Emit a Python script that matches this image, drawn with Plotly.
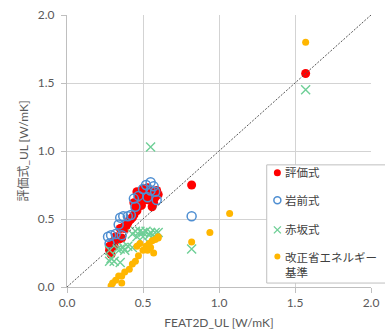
import plotly.graph_objects as go

# Axis setup
AXIS_RANGE = [0.0, 2.0]
TICK_VALUES = [0.0, 0.5, 1.0, 1.5, 2.0]
TICK_LABELS = ["0.0", "0.5", "1.0", "1.5", "2.0"]
X_TITLE = "FEAT2D_UL [W/mK]"
Y_TITLE = "評価式_UL [W/mK]"

SERIES_NAMES = ["評価式", "岩前式", "赤坂式", "改正省エネルギー基準"]
LEGEND_LABELS = ["評価式", "岩前式", "赤坂式", "改正省エネルギー<br>基準"]

# 評価式
hyoka_x = [0.46, 0.47, 0.44, 0.50, 0.52, 0.53, 0.55, 0.56, 0.54, 0.57, 0.58, 0.59,
           0.51, 0.49, 0.56, 0.60, 0.45, 0.48, 0.46, 0.44, 0.43, 0.41, 0.40, 0.39,
           0.37, 0.35, 0.42, 0.38, 0.32, 0.34, 0.36, 0.30, 0.28, 0.28, 0.29, 0.31,
           0.82, 1.57]
hyoka_y = [0.70, 0.66, 0.62, 0.72, 0.69, 0.73, 0.70, 0.67, 0.64, 0.62, 0.66, 0.71,
           0.64, 0.60, 0.59, 0.68, 0.58, 0.68, 0.56, 0.53, 0.51, 0.49, 0.47, 0.45,
           0.44, 0.43, 0.50, 0.43, 0.37, 0.35, 0.36, 0.33, 0.30, 0.27, 0.24, 0.30,
           0.75, 1.57]

# 岩前式
iwamae_x = [0.55, 0.52, 0.57, 0.50, 0.58, 0.55, 0.47, 0.44, 0.59, 0.53, 0.45, 0.42,
            0.40, 0.37, 0.35, 0.34, 0.32, 0.29, 0.27, 0.28, 0.36, 0.82]
iwamae_y = [0.77, 0.75, 0.74, 0.72, 0.70, 0.71, 0.67, 0.65, 0.64, 0.66, 0.59, 0.53,
            0.52, 0.52, 0.51, 0.46, 0.39, 0.38, 0.37, 0.32, 0.38, 0.52]

# 赤坂式
akasaka_x = [0.45, 0.48, 0.50, 0.52, 0.55, 0.58, 0.54, 0.50, 0.46, 0.43, 0.57, 0.60,
             0.40, 0.37, 0.35, 0.33, 0.38, 0.43, 0.28, 0.31, 0.35, 0.29, 0.28,
             0.55, 0.82, 1.57]
akasaka_y = [0.41, 0.41, 0.40, 0.41, 0.40, 0.40, 0.38, 0.37, 0.37, 0.39, 0.37, 0.40,
             0.30, 0.29, 0.28, 0.28, 0.27, 0.29, 0.19, 0.19, 0.18, 0.21, 0.27,
             1.03, 0.28, 1.45]

# 改正省エネルギー基準
kaisei_x = [0.60, 0.58, 0.56, 0.54, 0.52, 0.55, 0.53, 0.57, 0.50, 0.48, 0.46, 0.47,
            0.45, 0.43, 0.41, 0.38, 0.36, 0.34, 0.32, 0.36, 0.29, 0.30, 0.60,
            0.82, 0.94, 1.07, 1.57]
kaisei_y = [0.37, 0.35, 0.34, 0.32, 0.30, 0.29, 0.27, 0.25, 0.27, 0.32, 0.30, 0.23,
            0.19, 0.17, 0.13, 0.11, 0.08, 0.08, 0.05, 0.03, 0.01, 0.03, 0.36,
            0.33, 0.40, 0.54, 1.80]

FONT = "Lato, 'Noto Sans CJK JP', sans-serif"
TEXT_COLOR = "#595959"
GRID_COLOR = "#d3d3d3"
LINE_COLOR = "#bfbfbf"

styles = [
    dict(symbol="circle", size=9, color="#ff0000", line=dict(width=0)),
    dict(symbol="circle-open", size=9, color="#4f8fd2", line=dict(width=1.5)),
    dict(symbol="x-thin-open", size=9, color="#6fcf97", line=dict(width=1.4)),
    dict(symbol="circle", size=7, color="#ffb600", line=dict(width=0)),
]
series = [(hyoka_x, hyoka_y), (iwamae_x, iwamae_y), (akasaka_x, akasaka_y), (kaisei_x, kaisei_y)]

fig = go.Figure()

for name, (xs, ys), st in zip(SERIES_NAMES, series, styles):
    fig.add_trace(go.Scatter(x=xs, y=ys, mode="markers", name=name, marker=st,
                             showlegend=False, cliponaxis=True))

# y = x reference line spanning the axis range
fig.add_trace(go.Scatter(x=AXIS_RANGE, y=AXIS_RANGE, mode="lines", showlegend=False,
                         line=dict(color="#555555", width=1, dash="2px,1.5px"),
                         hoverinfo="skip"))

# Legend box (plot-area fractions)
LEG_X0, LEG_X1 = 0.657, 1.06
LEG_Y0, LEG_Y1 = 0.0145, 0.449
LEG_MARK_X = 0.692
LEG_TEXT_X = 0.710
LEG_ROWS = [0.420, 0.319, 0.210, 0.0815]
LEG_MARK_ROWS = [0.420, 0.319, 0.210, 0.112]

span = AXIS_RANGE[1] - AXIS_RANGE[0]
fig.add_shape(type="rect", xref="x", yref="y", layer="between",
              x0=AXIS_RANGE[0] + LEG_X0 * span, x1=AXIS_RANGE[1],
              y0=AXIS_RANGE[0] + LEG_Y0 * span, y1=AXIS_RANGE[0] + LEG_Y1 * span,
              fillcolor="white", line=dict(width=0))
fig.add_shape(type="rect", xref="paper", yref="paper", layer="above",
              x0=LEG_X0, x1=LEG_X1, y0=LEG_Y0, y1=LEG_Y1,
              fillcolor="rgba(0,0,0,0)", line=dict(color=LINE_COLOR, width=1))

for st, ym in zip(styles, LEG_MARK_ROWS):
    s = dict(st)
    s["size"] = 7 if st["symbol"] != "circle" or st["size"] > 7 else 6
    fig.add_trace(go.Scatter(x=[LEG_MARK_X], y=[ym], mode="markers", marker=s,
                             xaxis="x2", yaxis="y2", showlegend=False, hoverinfo="skip"))

for label, yt in zip(LEGEND_LABELS, LEG_ROWS):
    fig.add_annotation(x=LEG_TEXT_X, y=yt, xref="paper", yref="paper", text=label,
                       showarrow=False, xanchor="left", yanchor="middle", align="left",
                       font=dict(family=FONT, size=11.5, color="#404040"))

axis_common = dict(
    range=AXIS_RANGE, tickvals=TICK_VALUES, ticktext=TICK_LABELS,
    showgrid=True, gridcolor=GRID_COLOR, gridwidth=1,
    showline=True, linecolor=LINE_COLOR, linewidth=1,
    ticks="outside", ticklen=5, tickcolor=LINE_COLOR,
    zeroline=False, tickfont=dict(family=FONT, size=12, color=TEXT_COLOR),
    fixedrange=True, ticklabeloverflow="allow",
)

fig.update_layout(
    width=385, height=334,
    margin=dict(l=67, r=6, t=15, b=43),
    paper_bgcolor="white", plot_bgcolor="white",
    font=dict(family=FONT, color=TEXT_COLOR),
    showlegend=False,
    xaxis=dict(**axis_common, title=dict(text=X_TITLE, standoff=9,
                                         font=dict(family=FONT, size=12, color=TEXT_COLOR))),
    yaxis=dict(**axis_common, ticklabelstandoff=4,
               title=dict(text=Y_TITLE, standoff=6,
                          font=dict(family=FONT, size=12, color=TEXT_COLOR))),
    xaxis2=dict(overlaying="x", range=[0, 1], visible=False, fixedrange=True),
    yaxis2=dict(overlaying="y", range=[0, 1], visible=False, fixedrange=True),
)

fig.write_html("out.html")
